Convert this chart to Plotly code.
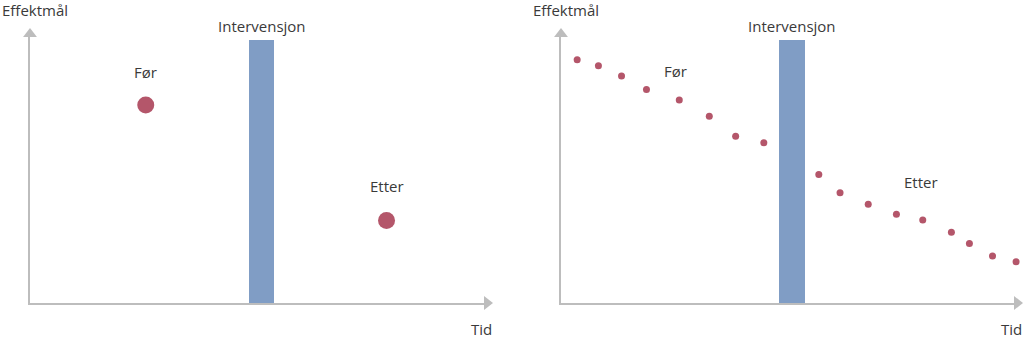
import plotly.graph_objects as go

W, H = 1024, 338

# ---- data (time units 0..100, effect units 0..100) ----
left_time = [25, 77]
left_effect = [72, 30]
left_labels = ["Før", "Etter"]

right_before_time = [3.5, 8.1, 13.1, 18.5, 25.6, 32.1, 37.8, 43.9]
right_before_effect = [88.4, 86.3, 82.5, 77.6, 73.8, 67.9, 60.6, 58.3]
right_after_time = [55.8, 60.4, 66.5, 72.6, 78.3, 84.5, 88.4, 93.4, 98.5]
right_after_effect = [46.7, 40.1, 35.9, 32.3, 30.2, 25.7, 21.6, 17.1, 15.0]

intervention_time = [50]
intervention_height = [95.6]
intervention_label = "Intervensjon"
x_title = "Tid"
y_title = "Effektmål"

DOT = "#b4566a"
BAR = "#809dc5"
AX = "#bdbdbd"
TXT = "#3a3a3a"
FONT = "Open Sans"

X_MAX = 98.7
Y_MAX = 97.8

fig = go.Figure()

# intervention bars
for xa, ya in [("x", "y"), ("x2", "y2")]:
    fig.add_trace(go.Bar(x=intervention_time, y=intervention_height, width=5.5,
                         marker=dict(color=BAR, line=dict(width=0)),
                         xaxis=xa, yaxis=ya, hoverinfo="skip"))

# left dots
fig.add_trace(go.Scatter(x=left_time, y=left_effect, mode="markers", cliponaxis=False,
                         marker=dict(size=17, color=DOT), xaxis="x", yaxis="y"))
# right dots
fig.add_trace(go.Scatter(x=right_before_time + right_after_time,
                         y=right_before_effect + right_after_effect, mode="markers",
                         cliponaxis=False,
                         marker=dict(size=7, color=DOT), xaxis="x2", yaxis="y2"))

# axis arrowheads
for xa, ya in [("x", "y"), ("x2", "y2")]:
    fig.add_trace(go.Scatter(x=[X_MAX], y=[0], mode="markers", cliponaxis=False,
                             marker=dict(symbol="triangle-right", size=12, color=AX),
                             xaxis=xa, yaxis=ya, hoverinfo="skip"))
    fig.add_trace(go.Scatter(x=[0], y=[Y_MAX], mode="markers", cliponaxis=False,
                             marker=dict(symbol="triangle-up", size=12, color=AX),
                             xaxis=xa, yaxis=ya, hoverinfo="skip"))

yd = [1 - 303 / H, 1 - 34 / H]
ax_common = dict(showgrid=False, zeroline=False, showticklabels=False, ticks="",
                 showline=True, linecolor=AX, linewidth=2, fixedrange=True)

fig.update_layout(
    width=W, height=H, margin=dict(l=0, r=0, t=0, b=0),
    paper_bgcolor="white", plot_bgcolor="white", showlegend=False,
    bargap=0,
    xaxis=dict(domain=[30 / W, 487 / W], range=[0, X_MAX], anchor="y", **ax_common),
    yaxis=dict(domain=yd, range=[0, Y_MAX], anchor="x", **ax_common),
    xaxis2=dict(domain=[561 / W, 1017 / W], range=[0, X_MAX], anchor="y2", **ax_common),
    yaxis2=dict(domain=yd, range=[0, Y_MAX], anchor="x2", **ax_common),
    font=dict(family=FONT, size=15, color=TXT),
)

ann = []
f = dict(family=FONT, size=15, color=TXT)
common = dict(showarrow=False, font=f, yanchor="middle")
# point labels
ann.append(dict(x=left_time[0], y=84, xref="x", yref="y", text=left_labels[0], **common))
ann.append(dict(x=left_time[1], y=42.5, xref="x", yref="y", text=left_labels[1], **common))
ann.append(dict(x=24.7, y=84.4, xref="x2", yref="y2", text=left_labels[0], **common))
ann.append(dict(x=77.9, y=44, xref="x2", yref="y2", text=left_labels[1], **common))
# intervention labels
for xr in ["x", "x2"]:
    ann.append(dict(x=intervention_time[0], y=1 - 26 / H, xref=xr, yref="paper",
                    text=intervention_label, **common))
# axis titles
ann.append(dict(x=0, y=1 - 10 / H, xref="paper", yref="paper", xanchor="left", text=y_title, **common))
ann.append(dict(x=531 / W, y=1 - 10 / H, xref="paper", yref="paper", xanchor="left", text=y_title, **common))
ann.append(dict(x=494 / W, y=1 - 329 / H, xref="paper", yref="paper", xanchor="right", text=x_title, **common))
ann.append(dict(x=1024 / W, y=1 - 329 / H, xref="paper", yref="paper", xanchor="right", text=x_title, **common))
fig.update_layout(annotations=ann)

fig.write_html("out.html")
